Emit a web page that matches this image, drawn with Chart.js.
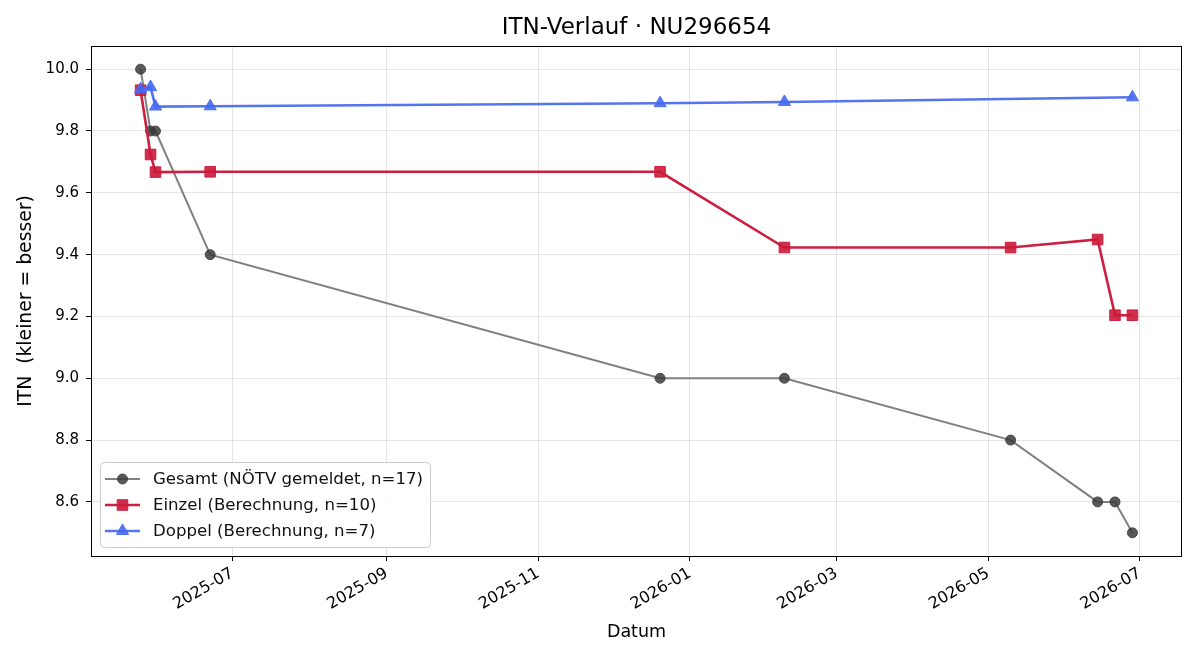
<!DOCTYPE html>
<html>
<head>
<meta charset="utf-8">
<script src="https://cdn.jsdelivr.net/npm/chart.js@4/dist/chart.umd.min.js"></script>
<style>
  html, body { margin: 0; padding: 0; background: #fff; }
  #wrap { width: 1200px; height: 660px; }
</style>
</head>
<body>
<div id="wrap"><canvas id="myChart" width="1200" height="660"></canvas></div>
<script>
// data
var gesamtDates = ['2025-05-25', '2025-05-29', '2025-05-31', '2025-06-22', '2025-12-20',
                   '2026-02-08', '2026-05-10', '2026-06-14', '2026-06-21', '2026-06-28'];
var gesamtValues = [10.0, 9.8, 9.8, 9.4, 9.0, 9.0, 8.8, 8.6, 8.6, 8.5];

var einzelDates = ['2025-05-25', '2025-05-29', '2025-05-31', '2025-06-22', '2025-12-20',
                   '2026-02-08', '2026-05-10', '2026-06-14', '2026-06-21', '2026-06-28'];
var einzelValues = [9.932, 9.724, 9.667, 9.668, 9.668, 9.423, 9.423, 9.449, 9.204, 9.204];

var doppelDates = ['2025-05-25', '2025-05-29', '2025-05-31', '2025-06-22', '2025-12-20',
                   '2026-02-08', '2026-06-28'];
var doppelValues = [9.935, 9.942, 9.879, 9.880, 9.890, 9.894, 9.909];

var xTickLabels = ['2025-07', '2025-09', '2025-11', '2026-01', '2026-03', '2026-05', '2026-07'];
var yTickValues = [8.6, 8.8, 9.0, 9.2, 9.4, 9.6, 9.8, 10.0];

var FONT = "'DejaVu Sans', sans-serif";

function toMs(d) { return new Date(d).getTime(); }
function pts(dates, vals) {
    return dates.map(function(d, i){ return {x: toMs(d), y: vals[i]}; });
}

// axis limits like matplotlib (5% margin)
var allX = gesamtDates.concat(einzelDates, doppelDates).map(toMs);
var allY = gesamtValues.concat(einzelValues, doppelValues);
var xMin = Math.min.apply(null, allX), xMax = Math.max.apply(null, allX);
var yMin = Math.min.apply(null, allY), yMax = Math.max.apply(null, allY);
var xPad = (xMax - xMin) * 0.05, yPad = (yMax - yMin) * 0.05;

// frame + legend inside the plot, lower left
var framePlugin = {
    id: 'frame',
    afterDraw: function(chart){
        var ctx = chart.ctx, a = chart.chartArea;
        ctx.save();
        ctx.strokeStyle = '#000';
        ctx.lineWidth = 1;
        ctx.strokeRect(Math.round(a.left) + 0.5, Math.round(a.top) + 0.5,
                       Math.round(a.right - a.left) - 1, Math.round(a.bottom - a.top));

        // legend
        var sets = chart.data.datasets;
        var bx = a.left + 9, rowH = 26, bh = sets.length * rowH + 7;
        var by = a.bottom - 9 - bh;
        ctx.font = '16.6px ' + FONT;
        var tw = 0;
        sets.forEach(function(s){ tw = Math.max(tw, ctx.measureText(s.label).width); });
        var bw = 53 + tw + 7;
        ctx.beginPath();
        ctx.roundRect(bx + 0.5, by + 0.5, bw, bh, 4);
        ctx.fillStyle = 'rgba(255,255,255,0.85)';
        ctx.fill();
        ctx.strokeStyle = '#cccccc';
        ctx.stroke();
        sets.forEach(function(s, i){
            var cy = by + 17 + i * rowH;
            ctx.beginPath();
            ctx.strokeStyle = s.borderColor;
            ctx.lineWidth = s.borderWidth;
            ctx.moveTo(bx + 5, cy);
            ctx.lineTo(bx + 40, cy);
            ctx.stroke();
            ctx.fillStyle = s.pointBackgroundColor;
            ctx.strokeStyle = s.pointBorderColor;
            ctx.lineWidth = 1;
            Chart.helpers.drawPoint(ctx, {pointStyle: s.pointStyle, radius: s.pointRadius,
                                          rotation: 0, borderWidth: 1}, bx + 22.5, cy);
            ctx.fillStyle = '#111';
            ctx.textBaseline = 'middle';
            ctx.textAlign = 'left';
            ctx.fillText(s.label, bx + 53, cy + 1);
        });
        ctx.restore();
    }
};

var ctx = document.getElementById('myChart');
var myChart = new Chart(ctx, {
    type: 'line',
    data: {
        datasets: [{
            label: 'Gesamt (NÖTV gemeldet, n=17)',
            data: pts(gesamtDates, gesamtValues),
            borderColor: '#808080',
            borderWidth: 2,
            pointStyle: 'circle',
            pointRadius: 5,
            pointBackgroundColor: 'rgba(60,60,60,0.85)',
            pointBorderColor: 'rgba(60,60,60,0.85)',
            pointBorderWidth: 1,
            order: 2
        }, {
            label: 'Einzel (Berechnung, n=10)',
            data: pts(einzelDates, einzelValues),
            borderColor: 'rgb(203,32,64)',
            borderWidth: 2.6,
            pointStyle: 'rect',
            pointRadius: 7.5,
            pointBackgroundColor: 'rgba(203,25,58,0.9)',
            pointBorderColor: 'rgba(203,25,58,0.9)',
            pointBorderWidth: 1,
            order: 1
        }, {
            label: 'Doppel (Berechnung, n=7)',
            data: pts(doppelDates, doppelValues),
            borderColor: 'rgb(85,116,240)',
            borderWidth: 2.6,
            pointStyle: 'triangle',
            pointRadius: 7,
            pointBackgroundColor: 'rgba(70,105,240,0.9)',
            pointBorderColor: 'rgba(70,105,240,0.9)',
            pointBorderWidth: 1,
            order: 0
        }]
    },
    options: {
        responsive: false,
        animation: false,
        layout: { padding: { left: 0, right: 18, top: 0, bottom: 0 } },
        plugins: {
            legend: { display: false },
            tooltip: { enabled: false },
            title: {
                display: true,
                fullSize: false,
                text: 'ITN-Verlauf · NU296654',
                color: '#000',
                font: { family: FONT, size: 23, weight: 'normal' },
                padding: { top: 14, bottom: 4.4 }
            }
        },
        scales: {
            x: {
                type: 'linear',
                min: xMin - xPad,
                max: xMax + xPad,
                afterBuildTicks: function(scale){
                    scale.ticks = xTickLabels.map(function(l){ return {value: toMs(l + '-01')}; });
                },
                afterFit: function(scale){ scale.height = 104; },
                ticks: {
                    minRotation: 30,
                    maxRotation: 30,
                    padding: 3,
                    color: '#000',
                    font: { family: FONT, size: 16 },
                    callback: function(v){
                        var d = new Date(v);
                        var m = d.getUTCMonth() + 1;
                        return d.getUTCFullYear() + '-' + (m < 10 ? '0' + m : m);
                    }
                },
                grid: { color: 'rgba(0,0,0,0.1)', tickColor: '#000', tickLength: 5, lineWidth: 1 },
                border: { display: false },
                title: {
                    display: true,
                    text: 'Datum',
                    color: '#000',
                    font: { family: FONT, size: 17.5 },
                    padding: { top: 0, bottom: 17 }
                }
            },
            y: {
                min: yMin - yPad,
                max: yMax + yPad,
                afterBuildTicks: function(scale){
                    scale.ticks = yTickValues.map(function(v){ return {value: v}; });
                },
                afterFit: function(scale){ scale.width = 91; },
                ticks: {
                    padding: 7,
                    color: '#000',
                    font: { family: FONT, size: 15 },
                    callback: function(v){ return v.toFixed(1); }
                },
                grid: { color: 'rgba(0,0,0,0.1)', tickColor: '#000', tickLength: 5, lineWidth: 1 },
                border: { display: false },
                title: {
                    display: true,
                    text: 'ITN  (kleiner = besser)',
                    color: '#000',
                    font: { family: FONT, size: 18.8 },
                    padding: { top: 15, bottom: 0 }
                }
            }
        }
    },
    plugins: [framePlugin]
});
</script>
</body>
</html>
